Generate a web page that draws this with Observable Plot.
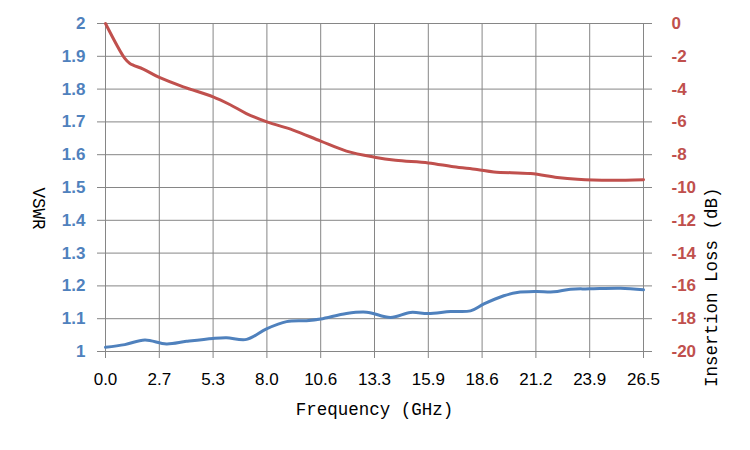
<!DOCTYPE html>
<html>
<head>
<meta charset="utf-8">
<script src="https://cdn.jsdelivr.net/npm/d3@7"></script>
<script src="https://cdn.jsdelivr.net/npm/@observablehq/plot@0.6"></script>
<style>
  html, body { margin: 0; padding: 0; background: #fff; }
</style>
</head>
<body>
<div id="chart"></div>
<script>
// Frequency (GHz) tick positions and labels
const xTicks = [0, 2.65, 5.3, 7.95, 10.6, 13.25, 15.9, 18.55, 21.2, 23.85, 26.5];
const xTickLabels = ["0.0", "2.7", "5.3", "8.0", "10.6", "13.3", "15.9", "18.6", "21.2", "23.9", "26.5"];

// Left axis (VSWR) ticks
const vswrTicks = [1, 1.1, 1.2, 1.3, 1.4, 1.5, 1.6, 1.7, 1.8, 1.9, 2];
// Right axis (Insertion Loss, dB) ticks
const ilTicks = [0, -2, -4, -6, -8, -10, -12, -14, -16, -18, -20];

// Insertion loss series
const freqIL = [0, 0.95, 1.2, 1.86, 2.65, 3.83, 5.3, 6.12, 6.94, 7.95, 9.24, 10.6, 11.87, 13.25, 14.29, 15.9, 17.15, 18.3, 19.13, 20.94, 22.25, 23.24, 24.9, 26.5];
const insertionLoss = [0, -2.13, -2.44, -2.78, -3.29, -3.86, -4.47, -4.94, -5.49, -6.0, -6.5, -7.17, -7.78, -8.15, -8.34, -8.5, -8.74, -8.9, -9.05, -9.15, -9.39, -9.5, -9.56, -9.52];

// VSWR series
const freqV = [0, 0.95, 1.94, 3.0, 3.99, 5.3, 5.96, 6.95, 7.93, 8.92, 9.9, 10.6, 11.87, 12.86, 14.04, 15.02, 15.9, 17.0, 17.98, 18.64, 19.62, 20.28, 21.2, 22.08, 22.9, 23.85, 25.37, 26.5];
const vswr = [1.013, 1.021, 1.035, 1.023, 1.031, 1.04, 1.042, 1.037, 1.069, 1.091, 1.094, 1.099, 1.116, 1.12, 1.104, 1.119, 1.116, 1.122, 1.124, 1.145, 1.17, 1.18, 1.183, 1.182, 1.19, 1.191, 1.193, 1.188];

const BLUE = "#4F81BD";
const RED = "#C0504D";
const GRID = "#868686";

// map dB (0..-20) onto the VSWR scale (2..1)
const ilToY = v => 2 + v / 20;
const yToIl = y => Math.round((y - 2) * 20);

const ilData = freqIL.map((f, i) => ({f, v: ilToY(insertionLoss[i])}));
const vData = freqV.map((f, i) => ({f, v: vswr[i]}));

const chart = Plot.plot({
  width: 750,
  height: 450,
  marginTop: 23,
  marginBottom: 99,
  marginLeft: 105,
  marginRight: 107,
  style: {fontFamily: "'Liberation Sans', Arial, sans-serif", background: "#fff"},
  x: {domain: [0, 26.5]},
  y: {domain: [1, 2]},
  marks: [
    Plot.gridX(xTicks, {stroke: GRID, strokeOpacity: 1, strokeWidth: 1}),
    Plot.gridY(vswrTicks, {stroke: GRID, strokeOpacity: 1, strokeWidth: 1}),
    Plot.axisX(xTicks, {
      anchor: "bottom", tickSize: 7, tickPadding: 14, stroke: GRID, fill: "#000",
      fontSize: 17, tickFormat: d => xTickLabels[xTicks.indexOf(d)], label: null
    }),
    Plot.axisY(vswrTicks, {
      anchor: "left", tickSize: 8, tickPadding: 12, stroke: GRID, fill: BLUE,
      fontSize: 17, fontWeight: "bold", tickFormat: d => String(+d.toFixed(1)), label: null
    }),
    Plot.axisY(ilTicks.map(ilToY), {
      anchor: "right", tickSize: 8, tickPadding: 20, stroke: GRID, fill: RED,
      fontSize: 17, fontWeight: "bold", tickFormat: d => String(yToIl(d)), label: null
    }),
    Plot.line(ilData, {x: "f", y: "v", stroke: RED, strokeWidth: 3, curve: "catmull-rom"}),
    Plot.line(vData, {x: "f", y: "v", stroke: BLUE, strokeWidth: 3, curve: "catmull-rom"}),
    Plot.text(["VSWR"], {frameAnchor: "left", dx: -67, rotate: 90, fontSize: 17.5, fontFamily: "'Liberation Mono', monospace", fill: "#000"}),
    Plot.text(["Insertion Loss (dB)"], {frameAnchor: "right", dx: 68, rotate: -90, fontSize: 17.5, fontFamily: "'Liberation Mono', monospace", fill: "#000"}),
    Plot.text(["Frequency (GHz)"], {frameAnchor: "bottom", dy: 63, fontSize: 17.5, fontFamily: "'Liberation Mono', monospace", fill: "#000"})
  ]
});
document.getElementById("chart").appendChild(chart);
</script>
</body>
</html>
